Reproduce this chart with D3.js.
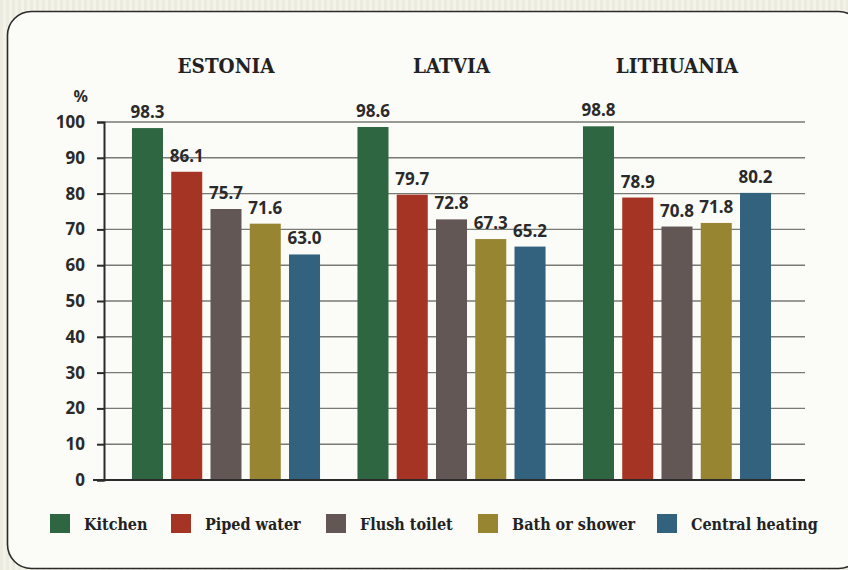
<!DOCTYPE html>
<html><head><meta charset="utf-8">
<script src="https://cdn.jsdelivr.net/npm/d3@7"></script>
<style>html,body{margin:0;padding:0;background:#f2f2e8;}svg{display:block;}</style>
</head><body>
<svg id="c" width="848" height="570"></svg>
<script>
const countries = ["ESTONIA", "LATVIA", "LITHUANIA"];
const amenities = ["Kitchen", "Piped water", "Flush toilet", "Bath or shower", "Central heating"];
const kitchen = [98.3, 98.6, 98.8];
const pipedWater = [86.1, 79.7, 78.9];
const flushToilet = [75.7, 72.8, 70.8];
const bathShower = [71.6, 67.3, 71.8];
const centralHeating = [63.0, 65.2, 80.2];
const colors = ["#2e6641", "#a63424", "#635756", "#978532", "#33627e"];
const yTicks = [0, 10, 20, 30, 40, 50, 60, 70, 80, 90, 100];

const seriesValues = [kitchen, pipedWater, flushToilet, bathShower, centralHeating];
const data = countries.map((c, i) => ({country: c, values: amenities.map((a, j) => ({key: a, value: seriesValues[j][i]}))}));

const svg = d3.select("#c");
const defs = svg.append("defs");
const pat = defs.append("pattern").attr("id", "stripes").attr("patternUnits", "userSpaceOnUse").attr("width", 6).attr("height", 6);
pat.append("rect").attr("width", 6).attr("height", 6).attr("fill", "#f3f3ea");
pat.append("rect").attr("x", 0).attr("width", 3).attr("height", 6).attr("fill", "#ebebdf");
svg.append("rect").attr("width", 848).attr("height", 570).attr("fill", "url(#stripes)");

// card
svg.append("rect").attr("x", 7.5).attr("y", 11.5).attr("width", 855).attr("height", 557)
  .attr("rx", 24).attr("ry", 24).attr("fill", "#fbfbf7").attr("stroke", "#2b2b2b").attr("stroke-width", 1.6);

const plotLeft = 104, plotRight = 805, plotTop = 122, plotBottom = 480;
const y = d3.scaleLinear().domain([0, 100]).range([plotBottom, plotTop]);
const x0 = d3.scaleBand().domain(countries).range([plotLeft, 799]).paddingInner(0.166).paddingOuter(0.124);
const x1 = d3.scaleBand().domain(amenities).range([0, x0.bandwidth()]).paddingInner(0.21).paddingOuter(0);
const color = d3.scaleOrdinal().domain(amenities).range(colors);

const numFont = "'Noto Sans', sans-serif";
const serifFont = "'DejaVu Serif', serif";

// gridlines
svg.append("g").selectAll("line").data(yTicks.filter(d => d > 0)).join("line")
  .attr("x1", plotLeft).attr("x2", plotRight).attr("y1", d => y(d)).attr("y2", d => y(d))
  .attr("stroke", "#7a7a74").attr("stroke-width", 1.4);

// bars
const g = svg.append("g");
g.selectAll("g").data(data).join("g")
  .attr("transform", d => `translate(${x0(d.country)},0)`)
  .each(function(d) {
    const gg = d3.select(this);
    gg.selectAll("rect").data(d.values).join("rect")
      .attr("x", v => x1(v.key)).attr("width", x1.bandwidth())
      .attr("y", v => y(v.value)).attr("height", v => y(0) - y(v.value))
      .attr("fill", v => color(v.key));
    gg.selectAll("text").data(d.values).join("text")
      .attr("x", v => x1(v.key) + x1.bandwidth() / 2).attr("y", v => y(v.value) - 10)
      .attr("text-anchor", "middle").attr("font-family", numFont).attr("font-weight", "bold")
      .attr("font-size", 17).attr("fill", "#2a2a2a").text(v => v.value.toFixed(1));
  });

// country titles
svg.append("g").selectAll("text").data(countries).join("text")
  .attr("x", d => x0(d) + x0.bandwidth() / 2).attr("y", 73)
  .attr("text-anchor", "middle").attr("font-family", serifFont).attr("font-weight", "bold")
  .attr("font-size", 20.5).attr("font-stretch", "condensed").attr("fill", "#222").text(d => d);

// y axis
const yAxis = d3.axisLeft(y).tickValues(yTicks).tickSize(7).tickPadding(12).tickFormat(d3.format("d"));
const ax = svg.append("g").attr("transform", `translate(${plotLeft},0)`).call(yAxis);
ax.select(".domain").attr("stroke", "#2b2b2b").attr("stroke-width", 2);
ax.selectAll(".tick line").attr("stroke", "#2b2b2b").attr("stroke-width", 2);
ax.selectAll(".tick text").attr("font-family", numFont).attr("font-weight", "bold").attr("font-size", 17).attr("fill", "#2a2a2a");
svg.append("text").attr("x", 88).attr("y", 102).attr("text-anchor", "end")
  .attr("font-family", numFont).attr("font-weight", "bold").attr("font-size", 16).attr("fill", "#2a2a2a").text("%");

// baseline
svg.append("line").attr("x1", 93).attr("x2", plotRight).attr("y1", y(0)).attr("y2", y(0))
  .attr("stroke", "#2b2b2b").attr("stroke-width", 2.2);

// legend
const legendX = [50, 171, 326, 478, 657];
const lg = svg.append("g").selectAll("g").data(amenities).join("g")
  .attr("transform", (d, i) => `translate(${legendX[i]},514)`);
lg.append("rect").attr("width", 20).attr("height", 19).attr("fill", d => color(d));
lg.append("text").attr("x", 34).attr("y", 15.5).attr("font-family", serifFont).attr("font-weight", "bold")
  .attr("font-size", 16).attr("font-stretch", "condensed").attr("fill", "#222").text(d => d);
</script>
</body></html>
